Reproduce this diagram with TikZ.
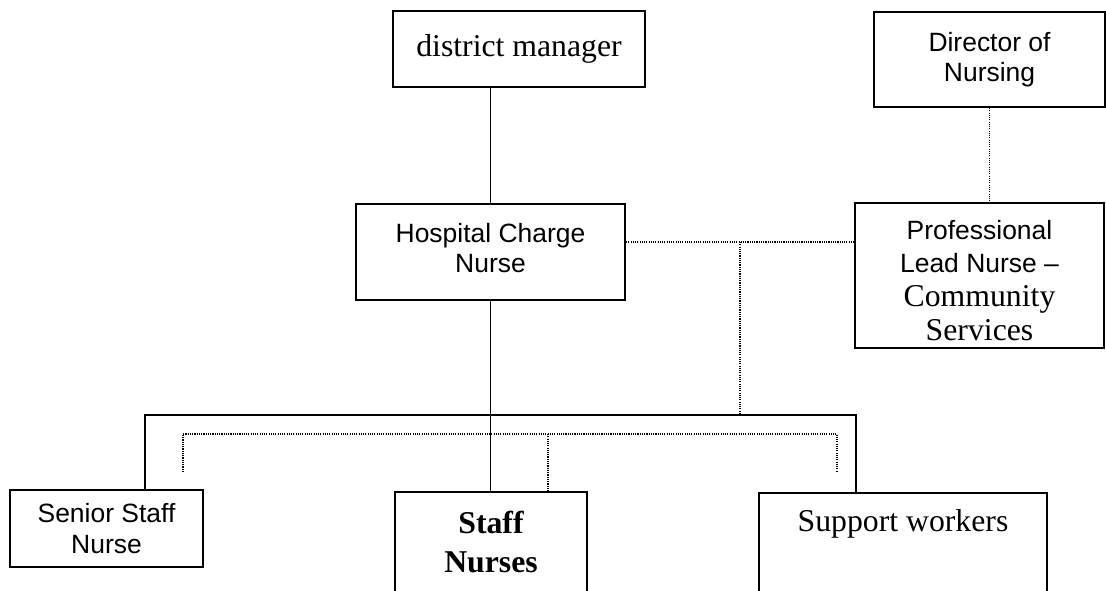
\documentclass[tikz,border=0pt]{standalone}
\usepackage{fontspec}
\setmainfont{Liberation Serif}
\setsansfont{Liberation Sans}
\usepackage{tikz}
\usetikzlibrary{positioning,calc}
\newcommand{\pxu}{0.378pt}
\tikzset{
  unitbox/.style={
    rectangle,
    draw=black,
    line width=0.8pt,
    inner sep=0pt,
    align=center
  },
  sansbox/.style={
    unitbox,
    font=\sffamily\fontsize{10}{11.5}\selectfont
  },
  serifbox/.style={
    unitbox,
    font=\fontsize{12}{14}\selectfont
  },
  solidlink/.style={
    line width=0.65pt,
    draw=black
  },
  dotlink/.style={
    line width=0.7pt,
    draw=black,
    dash pattern=on 0.4pt off 0.45pt
  }
}

\begin{document}
\begin{tikzpicture}[x=0.378pt,y=-0.378pt]
  \path[use as bounding box,clip] (0,0) rectangle (1106,590);
  % top row
  \node[serifbox,minimum width=252*\pxu,minimum height=76*\pxu] (manager) at (519,49) {district manager};
  \node[sansbox,minimum width=231*\pxu,minimum height=95*\pxu] (director) at (989.5,59.5) {Director of\\Nursing};
  % middle row
  \node[sansbox,minimum width=269*\pxu,minimum height=96*\pxu] (charge) at (490.5,252) {Hospital Charge\\Nurse\rule[-3pt]{0pt}{3pt}};
  \node[sansbox,font=\sffamily\fontsize{10}{12.8}\selectfont,minimum width=249*\pxu,minimum height=145*\pxu] (lead) at (979.5,275.5)
    {\rule{0pt}{11pt}Professional\\Lead Nurse –\\\rmfamily\fontsize{12}{12.8}\selectfont Community\\\rmfamily\fontsize{12}{12.8}\selectfont Services};
  % bottom row
  \node[sansbox,minimum width=193*\pxu,minimum height=77*\pxu] (senior) at (106.5,528.5) {Senior Staff\\Nurse};
  \node[serifbox,font=\bfseries\fontsize{12}{14.4}\selectfont,minimum width=192*\pxu,minimum height=100*\pxu] (staff) at (491,542) {Staff\\Nurses};
  \node[serifbox,anchor=north,minimum width=288*\pxu,text height=38*\pxu,text depth=72*\pxu] (support) at (903,492) {Support workers};

  \coordinate (peer) at (740,242);
  \coordinate (barL) at (145,415);
  \coordinate (barR) at (856,415);
  \coordinate (dotL) at (183,434);
  \coordinate (dotM) at (548,434);
  \coordinate (dotR) at (837,434);
  \coordinate (stubL) at (183,472);
  \coordinate (stubR) at (837,471);

  % line management
  \draw[solidlink] (charge.north |- manager.south) -- (charge.north);
  \draw[solidlink] (charge.south) -- (charge.south |- staff.north);
  \draw[solidlink] (senior.north -| barL) -- (barL) -- (barR) -- (barR |- support.north);

  % professional links
  \draw[dotlink] (director.south) -- (director.south |- lead.north);
  \draw[dotlink] (charge.east |- peer) -- (lead.west |- peer);
  \draw[dotlink] (peer) -- (peer |- barL);
  \draw[dotlink] (stubL) -- (dotL) -- (dotR) -- (stubR);
  \draw[dotlink] (dotM) -- (dotM |- staff.north);
\end{tikzpicture}
\end{document}
